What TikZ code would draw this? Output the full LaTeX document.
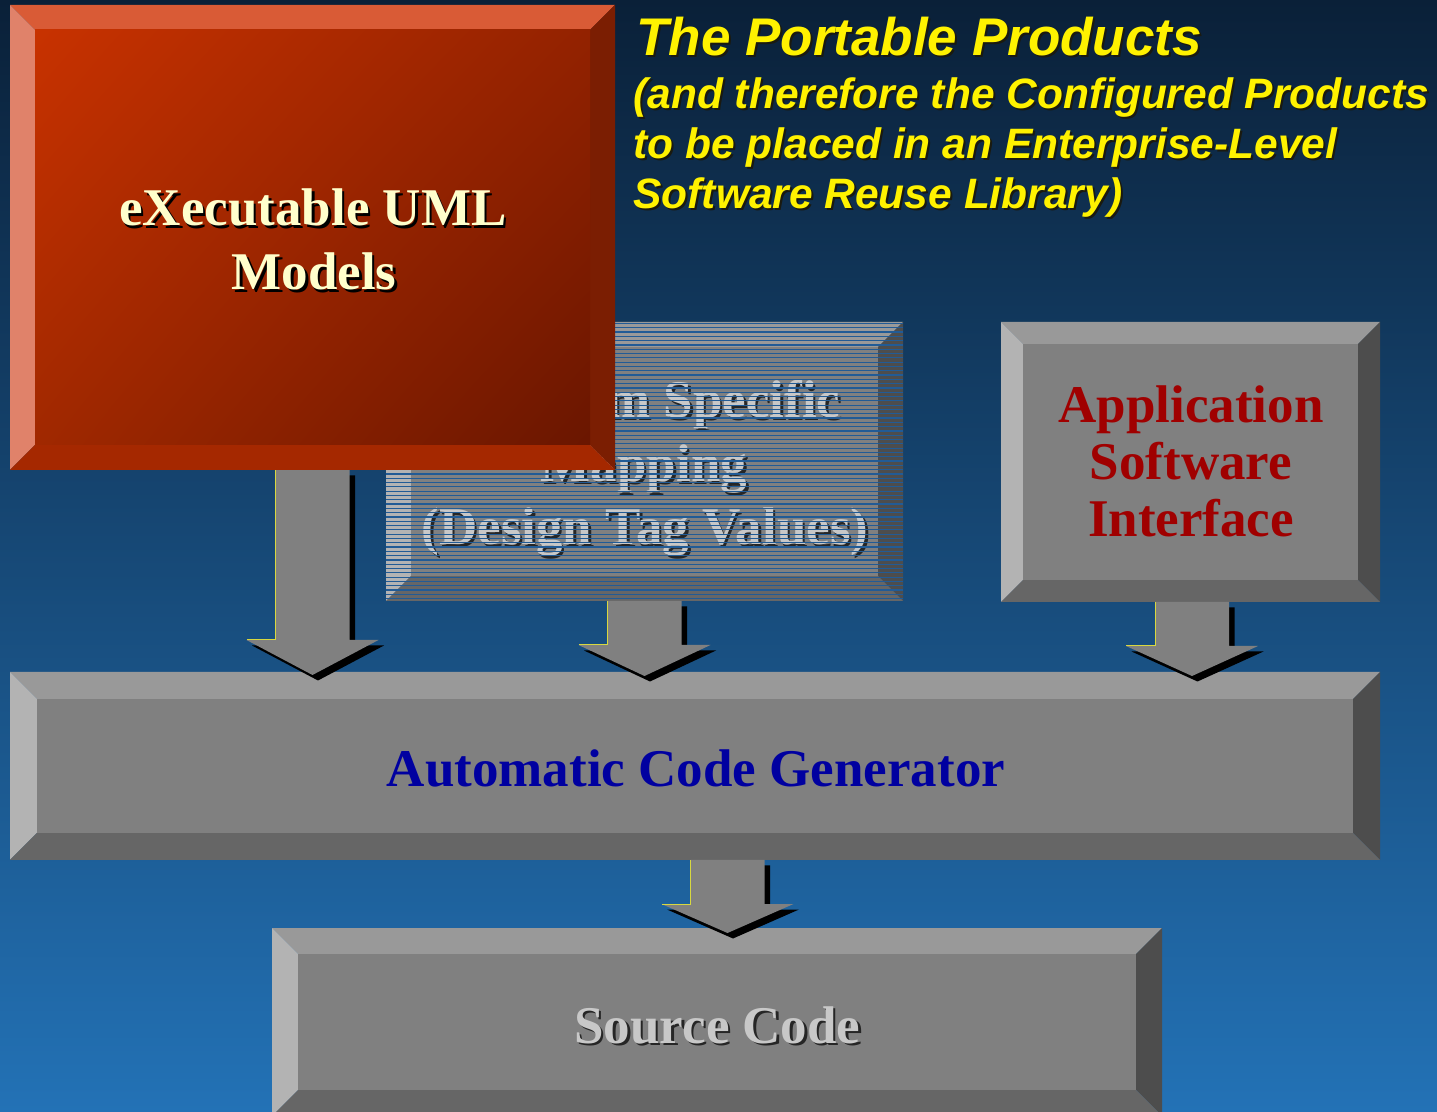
\documentclass[tikz,border=0pt]{standalone}
\usepackage{fontspec}
\setmainfont{Liberation Serif}
\setsansfont{Liberation Sans}
\usetikzlibrary{calc,shadings}

% palette
\definecolor{bgTop}{HTML}{0A2038}
\definecolor{bgMid}{HTML}{1A5290}
\definecolor{bgBot}{HTML}{2372B6}
\definecolor{gFace}{HTML}{808080}
\definecolor{gTop}{HTML}{999999}
\definecolor{gLeft}{HTML}{B3B3B3}
\definecolor{gRight}{HTML}{4D4D4D}
\definecolor{gBot}{HTML}{666666}
\definecolor{rTop}{HTML}{D95B36}
\definecolor{rLeft}{HTML}{E0826A}
\definecolor{rRight}{HTML}{7B1E02}
\definecolor{rBot}{HTML}{A52800}
\definecolor{rUL}{HTML}{C83200}
\definecolor{rUR}{HTML}{932200}
\definecolor{rLL}{HTML}{A02800}
\definecolor{rLR}{HTML}{6A1600}
\definecolor{cream}{HTML}{FFFFCC}
\definecolor{silver}{HTML}{C8C8C8}
\definecolor{asiRed}{HTML}{A00000}
\definecolor{acgBlue}{HTML}{0000A0}
\definecolor{stripeBlue}{HTML}{215B96}
\definecolor{edgeYellow}{HTML}{D8D840}
\definecolor{titleShade}{HTML}{1A1A10}

% beveled rectangle drawn around a named node: #1 node, #2 bevel width,
% #3 top, #4 left, #5 right, #6 bottom, #7 face colour
\newcommand\bevelbox[7]{%
  \coordinate (#1-i1) at ($(#1.north west)+(#2,#2)$);
  \coordinate (#1-i2) at ($(#1.north east)+(-#2,#2)$);
  \coordinate (#1-i3) at ($(#1.south east)+(-#2,-#2)$);
  \coordinate (#1-i4) at ($(#1.south west)+(#2,-#2)$);
  \fill[#3] (#1.north west) -- (#1.north east) -- (#1-i2) -- (#1-i1) -- cycle;
  \fill[#4] (#1.north west) -- (#1-i1) -- (#1-i4) -- (#1.south west) -- cycle;
  \fill[#5] (#1.north east) -- (#1.south east) -- (#1-i3) -- (#1-i2) -- cycle;
  \fill[#6] (#1.south west) -- (#1-i4) -- (#1-i3) -- (#1.south east) -- cycle;
  \fill[#7] (#1-i1) rectangle (#1-i3);
}

% text line with a drop shadow: #1 name, #2 base position, #3 colour, #4 shadow colour, #5 text
\newcommand\shadowline[5]{%
  \node[lbl, text=#4] (#1-s) at ($(#2)+(2.5,2.5)$) {#5};
  \node[lbl, text=#3] (#1) at (#2) {#5};
}
% heading line with a thin shadow: #1 name, #2 style, #3 base position, #4 text
\newcommand\headline[4]{%
  \node[#2, text=titleShade] (#1-s) at ($(#3)+(2,2)$) {#4};
  \node[#2] (#1) at (#3) {#4};
}

% broad block arrow with black drop shadow: #1 start, #2 tip, #3 head length
\newcommand\arrowpath[1]{%
  (\x1-18.5pt,\y1) -- (\x1-18.5pt,\y2+#1) -- (\x1-33pt,\y2+#1) -- (\x1,\y2)
  -- (\x1+33pt,\y2+#1) -- (\x1+18.5pt,\y2+#1) -- (\x1+18.5pt,\y1) -- cycle}
\newcommand\blockarrow[3]{%
  \fill[black] let \p1=($(#1)+(5.5,5.5)$), \p2=($(#2)+(5.5,5.5)$) in \arrowpath{#3};
  \fill[gFace] let \p1=(#1), \p2=(#2) in \arrowpath{#3};
  \draw[edgeYellow, line width=0.5pt] let \p1=(#1), \p2=(#2) in
    (\x1-18.5pt,\y1) -- (\x1-18.5pt,\y2+#3) -- (\x1-33pt,\y2+#3);
}

\begin{document}
\begin{tikzpicture}[x=0.5pt,y=-0.5pt,
  box/.style={inner sep=0pt, outer sep=0pt, anchor=north west},
  lbl/.style={font=\fontsize{26.5}{30}\selectfont\bfseries, inner sep=0pt, anchor=base},
  headstyle/.style={font=\sffamily\bfseries\itshape\fontsize{26.5}{30}\selectfont,
    text=yellow, inner sep=0pt, anchor=base west},
  substyle/.style={font=\sffamily\bfseries\itshape\fontsize{21.25}{25}\selectfont,
    text=yellow, inner sep=0pt, anchor=base west},
  stripe/.style={stripeBlue, line width=0.6pt}]

\clip (0,0) rectangle (1437,1112);

% background
\shade[top color=bgTop, middle color=bgMid, bottom color=bgBot] (0,0) rectangle (1437,1112);

% platform specific mapping (striped)
\node[box, minimum width=258.5pt, minimum height=139.5pt] (psm) at (386,322) {};
\bevelbox{psm}{25}{gTop}{gLeft}{gRight}{gBot}{gFace}
\shadowline{psm1}{644,418}{silver}{black!85}{Platform Specific}
\shadowline{psm2}{644,482}{silver}{black!85}{Mapping}
\shadowline{psm3}{645,545}{silver}{black!85}{(Design Tag Values)}
\foreach \k in {0,...,64}
  \draw[stripe] (386,{323.5+4.3*\k}) -- (903,{323.5+4.3*\k});

% application software interface
\node[box, minimum width=189.5pt, minimum height=140pt] (asi) at (1001,322) {};
\bevelbox{asi}{22}{gTop}{gLeft}{gRight}{gBot}{gFace}
\node[lbl, text=asiRed] (asi1) at (1191,423) {Application};
\node[lbl, text=asiRed] (asi2) at (1191,480) {Software};
\node[lbl, text=asiRed] (asi3) at (1191,537) {Interface};

% automatic code generator
\node[box, minimum width=685pt, minimum height=94pt] (acg) at (10,672) {};
\bevelbox{acg}{27}{gTop}{gLeft}{gRight}{gBot}{gFace}
\node[lbl, text=acgBlue] (acg1) at (696,787) {Automatic Code Generator};

% source code
\node[box, minimum width=445pt, minimum height=94pt] (src) at (272,928) {};
\bevelbox{src}{26}{gTop}{gLeft}{gRight}{gBot}{gFace}
\shadowline{src1}{717.5,1043}{silver}{black!85}{Source Code}

% executable UML models
\node[box, minimum width=302.5pt, minimum height=232.5pt] (xuml) at (10,5) {};

% connectors
\coordinate (a1t) at ($(xuml.south |- acg.north)+(0,3)$);
\coordinate (a2t) at ($(psm.south |- acg.north)+(0,4)$);
\coordinate (a3s) at ($(asi.south)+(1.5,0)$);
\coordinate (a3t) at ($(a3s |- acg.north)+(0,4)$);
\coordinate (a4s) at ($(acg.south)+(32.5,0)$);
\coordinate (a4t) at ($(a4s |- src.north)+(0,5)$);
\blockarrow{xuml.south}{a1t}{17.5pt}
\blockarrow{psm.south}{a2t}{15.5pt}
\blockarrow{a3s}{a3t}{15pt}
\blockarrow{a4s}{a4t}{14.5pt}

% red box on top
\bevelbox{xuml}{25}{rTop}{rLeft}{rRight}{rBot}{rUL}
\shade[upper left=rUL, upper right=rUR, lower left=rLL, lower right=rLR]
  (xuml-i1) rectangle (xuml-i3);
\shadowline{xuml1}{313,226}{cream}{black}{eXecutable UML}
\shadowline{xuml2}{314,290}{cream}{black}{Models}

% heading
\headline{h0}{headstyle}{636,56}{The Portable Products}
\headline{h1}{substyle}{633,109}{(and therefore the Configured Products}
\headline{h2}{substyle}{633,159}{to be placed in an Enterprise-Level}
\headline{h3}{substyle}{633,209}{Software Reuse Library)}

\end{tikzpicture}
\end{document}
